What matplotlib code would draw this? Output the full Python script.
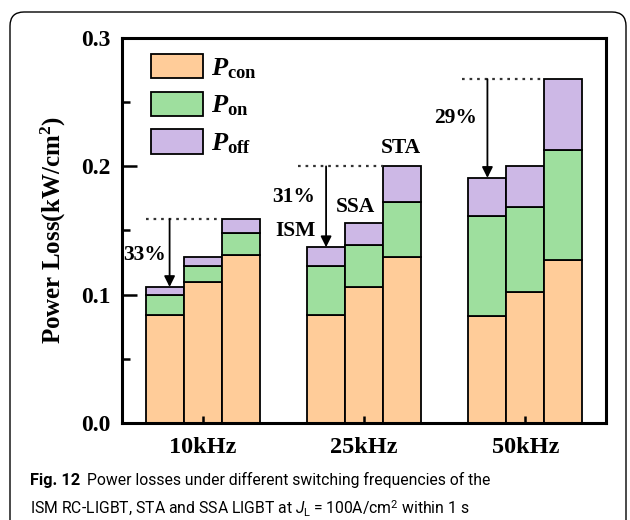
import matplotlib
matplotlib.use("Agg")
import matplotlib.pyplot as plt
import numpy as np
from matplotlib.patches import FancyBboxPatch

plt.rcParams['mathtext.fontset'] = 'custom'
plt.rcParams['mathtext.rm'] = 'Liberation Serif:bold'
plt.rcParams['mathtext.it'] = 'Liberation Serif:italic:bold'
plt.rcParams['mathtext.bf'] = 'Liberation Serif:bold'
plt.rcParams['mathtext.sf'] = 'Roboto:italic'
plt.rcParams['mathtext.cal'] = 'Roboto'

# ---- data ----
frequencies = ["10kHz", "25kHz", "50kHz"]
devices = ["ISM", "SSA", "STA"]
components = ["$P_{\\mathrm{con}}$", "$P_{\\mathrm{on}}$", "$P_{\\mathrm{off}}$"]
# per device, values per frequency (kW/cm^2)
p_con = {"ISM": [0.084, 0.084, 0.083], "SSA": [0.110, 0.106, 0.102], "STA": [0.131, 0.129, 0.127]}
p_on = {"ISM": [0.016, 0.0386, 0.078], "SSA": [0.0126, 0.033, 0.066], "STA": [0.017, 0.043, 0.086]}
p_off = {"ISM": [0.006, 0.0144, 0.030], "SSA": [0.0064, 0.017, 0.032], "STA": [0.011, 0.028, 0.055]}
reductions = ["33%", "31%", "29%"]

colors = ["#FFCC99", "#9EDF9E", "#CDB8E6"]
serif = "Liberation Serif"

fig = plt.figure(figsize=(6.3, 5.2), dpi=100)
ax = fig.add_axes([122/630, 1-423/520, (606-122)/630, (423-38)/520])

x = np.arange(len(frequencies))
width = 0.235
offsets = {"ISM": -width, "SSA": 0.0, "STA": width}

for dev in devices:
    xs = x + offsets[dev]
    con = np.array(p_con[dev]); on = np.array(p_on[dev]); off = np.array(p_off[dev])
    ax.bar(xs, con, width, color=colors[0], edgecolor="black", linewidth=1.3,
           label=components[0] if dev == "ISM" else None)
    ax.bar(xs, on, width, bottom=con, color=colors[1], edgecolor="black", linewidth=1.3,
           label=components[1] if dev == "ISM" else None)
    ax.bar(xs, off, width, bottom=con+on, color=colors[2], edgecolor="black", linewidth=1.3,
           label=components[2] if dev == "ISM" else None)

ax.set_xlim(-0.5, 2.5)
ax.set_ylim(0, 0.3)
ax.set_yticks([0.0, 0.1, 0.2, 0.3])
ax.set_yticks([0.05, 0.15, 0.25], minor=True)
ax.set_yticklabels(["0.0", "0.1", "0.2", "0.3"])
ax.set_xticks(x)
ax.set_xticklabels(frequencies)
for lab in ax.get_yticklabels():
    lab.set_fontfamily(serif); lab.set_fontweight("bold"); lab.set_fontsize(17)
for lab in ax.get_xticklabels():
    lab.set_fontfamily(serif); lab.set_fontweight("bold"); lab.set_fontsize(17.5)
ax.tick_params(axis="y", which="major", direction="in", length=11, width=1.8, pad=8)
ax.tick_params(axis="y", which="minor", direction="in", length=6, width=1.8)
ax.tick_params(axis="x", which="major", direction="in", length=5, width=1.8, pad=10)
for s in ax.spines.values():
    s.set_linewidth(2.2)

ax.set_ylabel("Power Loss(kW/cm$^{2}$)", fontfamily=serif, fontweight="bold", fontsize=18, labelpad=10)

# annotations
totals = {d: np.array(p_con[d]) + np.array(p_on[d]) + np.array(p_off[d]) for d in devices}
line_start = [-0.352, -0.407, -0.394]
arrow_dx = [0.03, 0.0, 0.0]
for i in range(len(frequencies)):
    top = totals["STA"][i]
    ax.plot([x[i] + line_start[i], x[i] + width - width/2], [top, top], color="#333333",
            linestyle=(0, (1.2, 2.2)), linewidth=1.6)
    ax_x = x[i] - width + arrow_dx[i]
    ax.annotate("", xy=(ax_x, totals["ISM"][i]), xytext=(ax_x, top),
                arrowprops=dict(arrowstyle="-|>", mutation_scale=16, lw=1.3, color="black",
                                shrinkA=0, shrinkB=0))

txt_kw = dict(fontfamily=serif, fontweight="bold", fontsize=15.5, ha="center", va="center")
ax.text(-0.363, 0.131, reductions[0], **txt_kw)
ax.text(0.562, 0.176, reductions[1], **txt_kw)
ax.text(1.568, 0.238, reductions[2], **txt_kw)
ax.text(0.575, 0.150, devices[0], **txt_kw)
ax.text(0.947, 0.168, devices[1], **txt_kw)
ax.text(1.227, 0.214, devices[2], **txt_kw)

leg = ax.legend(loc="upper left", frameon=False, fontsize=19, handlelength=1.95, handleheight=1.05,
                labelspacing=0.4, handletextpad=0.3, borderaxespad=0.2, bbox_to_anchor=(0.028, 1.0))
for h in leg.legend_handles:
    h.set_edgecolor("black"); h.set_linewidth(1.3)

# frame
frame = FancyBboxPatch((0.10, -0.3), 6.16, 5.08 + 0.3, boxstyle="round,pad=0,rounding_size=0.14",
                       transform=fig.dpi_scale_trans, facecolor="none", edgecolor="black",
                       linewidth=1.0, clip_on=False)
fig.patches.append(frame)

# caption
cap_font = "Roboto"
cap_size = 11.3
t1 = fig.text(30/630, 1-485/520, "Fig. 12", fontfamily=cap_font, fontweight="bold", fontsize=cap_size + 0.5, va="baseline")
fig.canvas.draw()
bb = t1.get_window_extent()
fig.text((bb.x1 + 7)/630, 1-485/520, "Power losses under different switching frequencies of the",
         fontfamily=cap_font, fontsize=cap_size, va="baseline")
fig.text(30/630, 1-514/520,
         "ISM RC-LIGBT, STA and SSA LIGBT at $\\mathsf{J}_{\\mathcal{L}}$\u2009=\u2009100A/cm$^{\\mathcal{2}}$ within 1 s",
         fontfamily=cap_font, fontsize=cap_size, va="baseline")

fig.savefig("out.png", dpi=100)
